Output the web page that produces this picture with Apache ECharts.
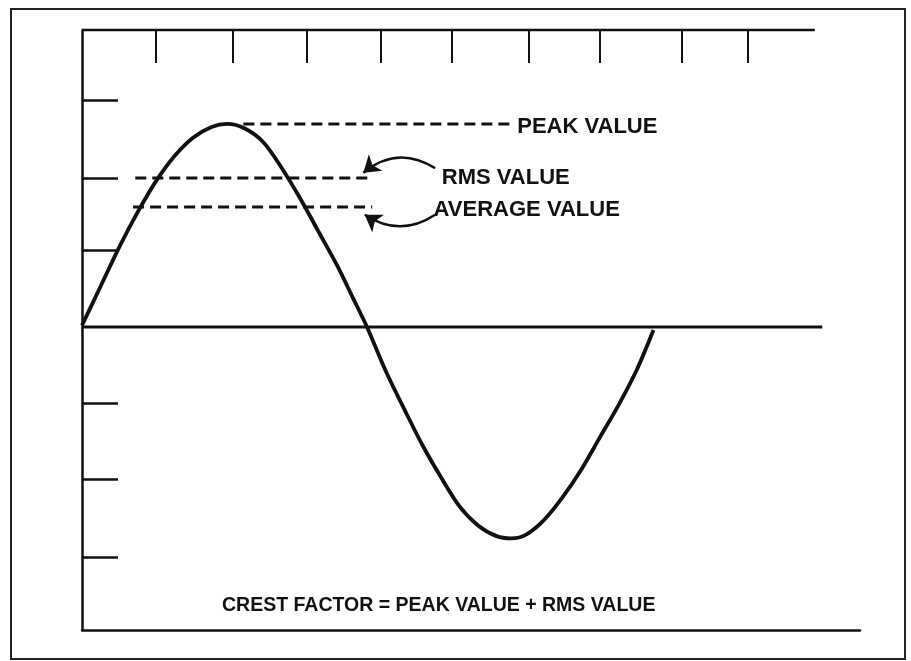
<!DOCTYPE html>
<html>
<head>
<meta charset="utf-8">
<script src="https://cdn.jsdelivr.net/npm/echarts@6/dist/echarts.min.js"></script>
<style>
  html, body { margin: 0; padding: 0; background: #fff; }
  #chart { width: 911px; height: 661px; }
</style>
</head>
<body>
<div id="chart"></div>
<script>
// units: x = one top-tick division, y = one left-tick division, origin where the wave starts
const waveX = [0, 0.25, 0.5, 0.75, 1.0, 1.25, 1.5, 1.75, 1.96, 2.2, 2.45, 2.7, 2.95, 3.2, 3.45, 3.65, 3.85,
  4.1, 4.35, 4.6, 4.85, 5.1, 5.35, 5.6, 5.8, 6.0, 6.25, 6.5, 6.75, 7.0, 7.25, 7.5, 7.72]
const waveY = [0.02, 0.53, 1.04, 1.5, 1.91, 2.24, 2.48, 2.62, 2.66, 2.6, 2.42, 2.08, 1.68, 1.24, 0.8, 0.4, 0,
  -0.57, -1.07, -1.55, -1.97, -2.35, -2.6, -2.74, -2.77, -2.72, -2.52, -2.22, -1.86, -1.44, -1.02, -0.55, -0.04]

const topTicks = [1.0, 2.03, 3.03, 4.04, 5.0, 6.03, 7.0, 8.1, 9.0]
const leftTicks = [2.97, 1.95, 1.0, -1.0, -2.0, -3.02]

const peakValue = 2.66
const rmsValue = 1.95
const avgValue = 1.57

const levelNames = ['PEAK VALUE', 'RMS VALUE', 'AVERAGE VALUE']
const levelFrom = [2.18, 0.72, 0.69]
const levelTo = [5.81, 3.92, 3.92]
const labelX = [5.88, 4.86, 4.75]
const labelY = [2.62, 1.95, 1.53]

const caption = 'CREST FACTOR = PEAK VALUE + RMS VALUE'

const xMin = 0, xMax = 10.51
const yMin = -3.97, yMax = 3.89

const ink = '#111'
const chart = echarts.init(document.getElementById('chart'))

const levels = [peakValue, rmsValue, avgValue]
const dashed = levels.map((v, i) => ({
  name: levelNames[i],
  type: 'line',
  symbol: 'none',
  silent: true,
  data: [[levelFrom[i], v], [levelTo[i], v]],
  lineStyle: { color: ink, width: 3, type: [11, 6] }
}))

chart.setOption({
  animation: false,
  backgroundColor: '#fff',
  graphic: [{
    type: 'rect',
    shape: { x: 11, y: 9, width: 894, height: 650 },
    style: { fill: 'none', stroke: '#222', lineWidth: 2 }
  }],
  title: {
    text: caption,
    left: 217,
    top: 591,
    textStyle: { fontFamily: 'Liberation Sans', fontWeight: 'bold', fontSize: 19.5, color: ink }
  },
  grid: { left: 82, right: 51, top: 30, bottom: 31 },
  xAxis: [{
    type: 'value', min: xMin, max: xMax, position: 'bottom',
    axisLine: { show: true, onZero: false, lineStyle: { color: ink, width: 2.5 } },
    axisTick: { show: false }, axisLabel: { show: false }, splitLine: { show: false }
  }, {
    type: 'value', min: xMin, max: xMax, position: 'top',
    axisLine: { show: false, onZero: false },
    axisTick: { show: true, inside: true, length: 33, customValues: topTicks, lineStyle: { color: ink, width: 2 } },
    axisLabel: { show: false }, splitLine: { show: false }
  }],
  yAxis: {
    type: 'value', min: yMin, max: yMax,
    axisLine: { show: true, onZero: false, lineStyle: { color: ink, width: 2.5 } },
    axisTick: { show: true, inside: true, length: 36, customValues: leftTicks, lineStyle: { color: ink, width: 2.5 } },
    axisLabel: { show: false }, splitLine: { show: false }
  },
  series: [
    {
      name: 'top', type: 'line', symbol: 'none', clip: false, silent: true,
      data: [[xMin, yMax], [9.9, yMax]],
      lineStyle: { color: ink, width: 2.5 }
    },
    {
      name: 'zero', type: 'line', symbol: 'none', silent: true,
      data: [[xMin, 0], [10.0, 0]],
      lineStyle: { color: ink, width: 3 }
    },
    {
      name: 'wave', type: 'line', symbol: 'none', smooth: 0.3, silent: true,
      data: waveX.map((x, i) => [x, waveY[i]]),
      lineStyle: { color: ink, width: 3.8 }
    },
    ...dashed,
    {
      name: 'arrows', type: 'lines', coordinateSystem: 'cartesian2d', silent: true,
      symbol: ['none', 'arrow'], symbolSize: 16,
      data: [
        { coords: [[4.77, 2.08], [3.8, 2.02]], lineStyle: { curveness: -0.36 } },
        { coords: [[4.77, 1.47], [3.82, 1.47]], lineStyle: { curveness: 0.33 } }
      ],
      lineStyle: { color: ink, width: 2.5, opacity: 1 }
    },
    {
      name: 'notes', type: 'scatter', symbolSize: 0, silent: true,
      itemStyle: { opacity: 1 },
      data: labelX.map((x, i) => [x, labelY[i], levelNames[i]]),
      label: {
        show: true, position: 'right', distance: 0, opacity: 1,
        formatter: p => p.data[2],
        fontFamily: 'Liberation Sans', fontWeight: 'bold', fontSize: 22, color: ink
      }
    }
  ]
})
</script>
</body>
</html>
